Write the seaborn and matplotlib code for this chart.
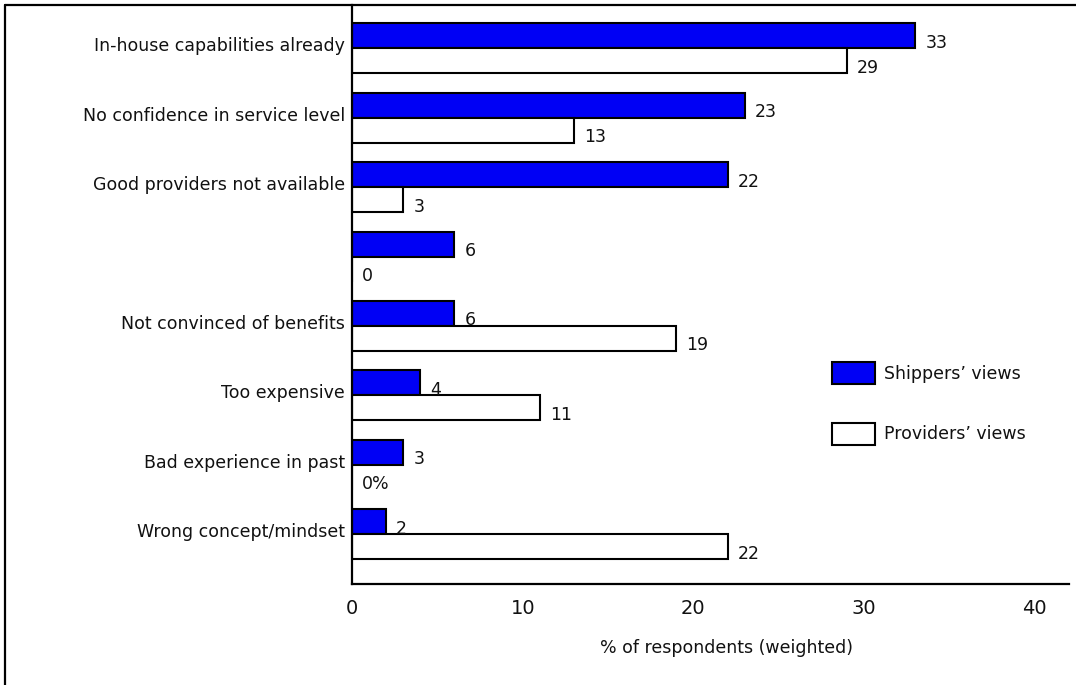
import matplotlib
matplotlib.use("Agg")
import matplotlib.pyplot as plt
import matplotlib.transforms as mtransforms
from matplotlib.lines import Line2D
from matplotlib.patches import Patch
import pandas as pd
import seaborn as sns

# Reasons for not outsourcing, top to bottom
reasons = [
    "In-house capabilities already",
    "No confidence in service level",
    "Good providers not available",
    "",
    "Not convinced of benefits",
    "Too expensive",
    "Bad experience in past",
    "Wrong concept/mindset",
]
shippers = [33, 23, 22, 6, 6, 4, 3, 2]
providers = [29, 13, 3, 0, 19, 11, 0, 22]
shipper_labels = ["33", "23", "22", "6", "6", "4", "3", "2"]
provider_labels = ["29", "13", "3", "0", "19", "11", "0%", "22"]

series = ["Shippers\u2019 views", "Providers\u2019 views"]
x_ticks = [0, 10, 20, 30, 40]
x_label = "% of respondents (weighted)"

BLUE = "#0000F5"
palette = {series[0]: BLUE, series[1]: "white"}

df = pd.concat([
    pd.DataFrame({"reason": reasons, "value": shippers, "view": series[0]}),
    pd.DataFrame({"reason": reasons, "value": providers, "view": series[1]}),
], ignore_index=True)

sns.set_theme(style="white")
plt.rcParams["font.family"] = ["DejaVu Sans"]

W, H = 1076, 685
fig = plt.figure(figsize=(W / 100, H / 100), dpi=100)
ax = fig.add_axes([352 / W, 1 - 584 / H, (1069 - 352) / W, (584 - 5) / H])

sns.barplot(
    data=df, y="reason", x="value", hue="view",
    order=reasons, hue_order=series, palette=palette, saturation=1,
    orient="h", width=0.72, gap=0, edgecolor="black", linewidth=1.5,
    legend=False, ax=ax,
)

ax.set_xlim(0, 42)
ax.set_ylim(7.72, -0.626)
ax.set_xticks(x_ticks)
ax.set_xticklabels([str(t) for t in x_ticks], fontsize=14, color="#111111")
ax.tick_params(axis="x", length=0, pad=11)
ax.tick_params(axis="y", length=0, pad=5, labelsize=12.5, labelcolor="#111111")
ax.set_ylabel("")
ax.set_xlabel(x_label, fontsize=12.5, color="#111111")
ax.xaxis.set_label_coords(0.523, -0.11)
ax.xaxis.label.set_va("center")

# nudge category names up a little
nudge = mtransforms.ScaledTranslation(0, 4 / 100, fig.dpi_scale_trans)
for lab in ax.get_yticklabels():
    lab.set_transform(lab.get_transform() + nudge)

for side in ("top", "right"):
    ax.spines[side].set_visible(False)
for side in ("left", "bottom"):
    ax.spines[side].set_color("black")
    ax.spines[side].set_linewidth(1.6)

# value labels beside each bar
for container, texts in zip(ax.containers, [shipper_labels, provider_labels]):
    for bar, txt in zip(container, texts):
        ax.annotate(
            txt,
            xy=(bar.get_x() + bar.get_width(), bar.get_y() + bar.get_height() / 2),
            xytext=(10, -7), textcoords="offset pixels",
            ha="left", va="center", fontsize=12.5, color="#111111",
        )

handles = [Patch(facecolor=palette[s], edgecolor="black", linewidth=1.5) for s in series]
fig.legend(
    handles, series, loc="upper left",
    bbox_to_anchor=(832 / W, 1 - 362 / H), bbox_transform=fig.transFigure,
    frameon=False, fontsize=12.5, handlelength=2.5, handleheight=1.55,
    handletextpad=0.5, labelspacing=2.25, borderpad=0, borderaxespad=0,
    labelcolor="#111111",
)

# open frame along the left and top edges
fig.add_artist(Line2D([5 / W, 5 / W], [0, 1 - 5 / H], transform=fig.transFigure,
                      color="black", linewidth=1.6))
fig.add_artist(Line2D([5 / W, 1], [1 - 5 / H, 1 - 5 / H], transform=fig.transFigure,
                      color="black", linewidth=1.6))

fig.savefig("out.png", dpi=100, facecolor="white")
